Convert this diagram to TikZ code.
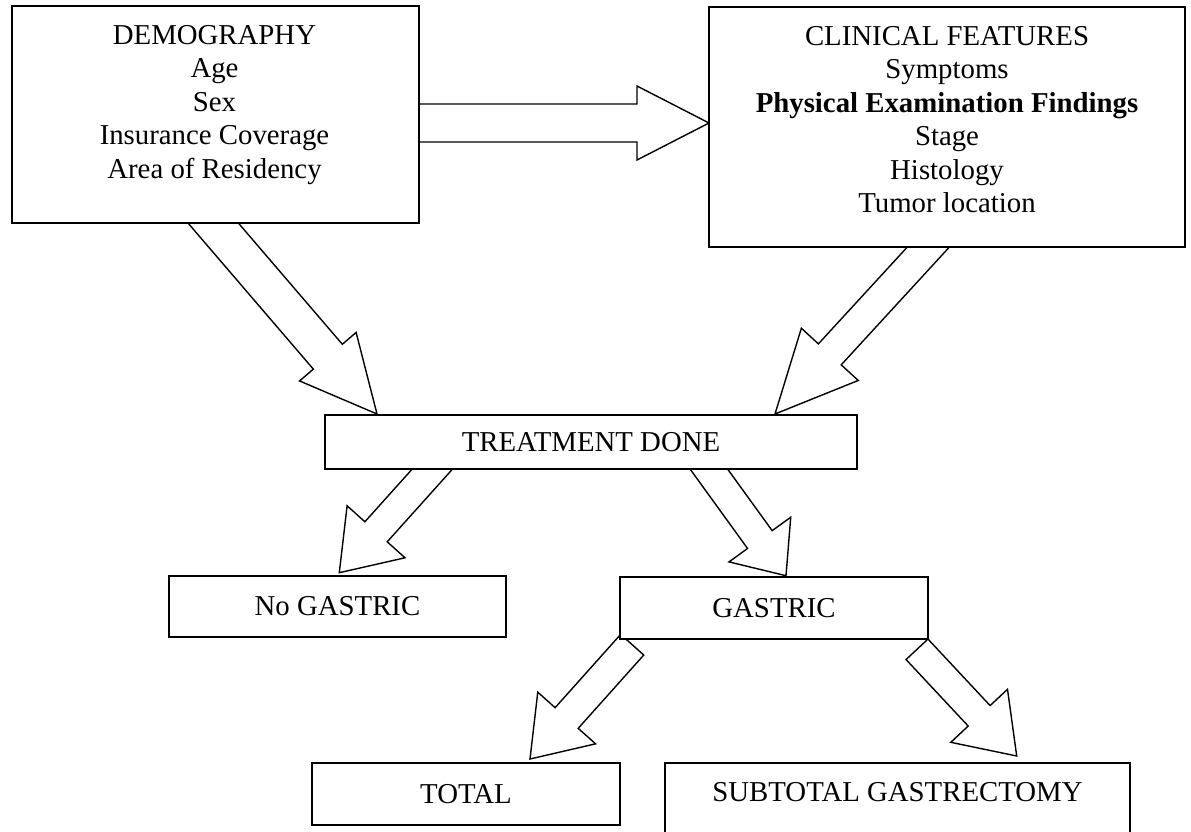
\documentclass[tikz,border=0pt]{standalone}
\usepackage{fontspec}
\setmainfont{Liberation Serif}
\usetikzlibrary{calc}
\pgfdeclarelayer{bg}
\pgfsetlayers{bg,main}
\newcommand{\myblockarrow}[5]{%
  \coordinate (ba-h) at ($(#2)!#5!(#1)$);
  \draw[barrow] ($(#1)!#3!90:(#2)$) -- ($(ba-h)!#3!90:(#2)$) -- ($(ba-h)!#4!90:(#2)$)
    -- (#2) -- ($(ba-h)!#4!-90:(#2)$) -- ($(ba-h)!#3!-90:(#2)$) -- ($(#1)!#3!-90:(#2)$) -- cycle;}
\tikzset{
  box/.style={draw=black, line width=1.8pt, fill=white, rectangle, inner sep=0pt,
    font=\fontsize{28.8}{33.5}\selectfont},
  txt/.style={inner sep=0pt, align=center, font=\fontsize{28.8}{33.5}\selectfont},
  barrow/.style={draw=black, line width=1.4pt, fill=white, line join=miter}
}
\begin{document}
\begin{tikzpicture}[x=1pt,y=-1pt]
\useasboundingbox (0,0) rectangle (1191,832);
\clip (0,0) rectangle (1191,832);
% boxes
\node[box, minimum width=407pt, minimum height=217pt] (demo) at (215.5,114.5) {};
\node[txt, anchor=north] (demotext) at (214.5,25) {DEMOGRAPHY\\Age\\Sex\\Insurance Coverage\\Area of Residency};
\node[box, minimum width=476pt, minimum height=240pt] (clin) at (947,127) {};
\node[txt, anchor=north] (clintext) at (947,26) {CLINICAL FEATURES\\Symptoms\\\textbf{Physical Examination Findings}\\Stage\\Histology\\Tumor location};
\node[box, minimum width=532pt, minimum height=54pt] (treat) at (591,442) {TREATMENT DONE};
\node[box, minimum width=337pt, minimum height=61pt] (nog) at (337.5,606.5) {No GASTRIC};
\node[box, minimum width=308pt, minimum height=62pt] (gas) at (774,608) {GASTRIC};
\node[box, minimum width=308pt, minimum height=62pt] (tot) at (466,794) {TOTAL};
\node[box, minimum width=465pt, minimum height=87pt, text depth=0pt] (sub) at (897.5,806.5) {};
\node[txt, anchor=base] (subtext) at (897.5,801.5) {SUBTOTAL GASTRECTOMY};
% arrow end points
\coordinate (a0s) at (410,123);   \coordinate (a0e) at (709,123);
\coordinate (a1s) at (202,210);   \coordinate (a1e) at (377,414);
\coordinate (a2s) at (944,230);   \coordinate (a2e) at (775,414);
\coordinate (a3s) at (445,455);   \coordinate (a3e) at (339.3,572.7);
\coordinate (a4s) at (697.8,453.8); \coordinate (a4e) at (786,575.7);
\coordinate (a5s) at (632.2,644.7); \coordinate (a5e) at (530,759);
\coordinate (a6s) at (917,649.3); \coordinate (a6e) at (1016.7,756);
\begin{pgfonlayer}{bg}
\myblockarrow{a0s}{a0e}{19pt}{37pt}{72pt}
\myblockarrow{a1s}{a1e}{19.1pt}{37.25pt}{75.5pt}
\myblockarrow{a2s}{a2e}{15.5pt}{38.6pt}{81pt}
\myblockarrow{a3s}{a3e}{15pt}{38.9pt}{55pt}
\myblockarrow{a4s}{a4e}{15.2pt}{38.1pt}{44.6pt}
\myblockarrow{a5s}{a5e}{15.5pt}{38.75pt}{55pt}
\myblockarrow{a6s}{a6e}{15pt}{38.8pt}{55pt}
\end{pgfonlayer}
\end{tikzpicture}
\end{document}
